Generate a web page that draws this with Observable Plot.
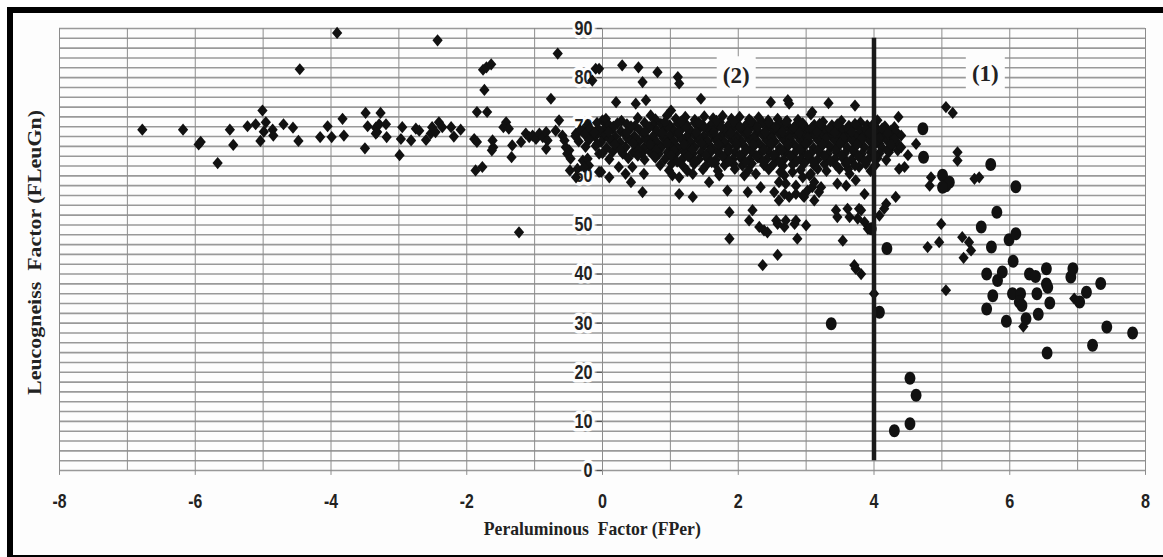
<!DOCTYPE html>
<html><head><meta charset="utf-8">
<script src="https://cdn.jsdelivr.net/npm/d3@7"></script>
<script src="https://cdn.jsdelivr.net/npm/@observablehq/plot@0.6"></script>
<style>
html,body{margin:0;padding:0;background:#fff;width:1163px;height:557px;overflow:hidden;}
#chart{position:absolute;left:0;top:0;}
#frame{position:absolute;left:7px;top:7px;width:1156px;height:550px;border-top:6px solid #000;border-left:6px solid #000;border-bottom:2px solid #000;box-sizing:border-box;pointer-events:none;}
</style></head><body>
<div id="chart"></div><div id="frame"></div>
<script>
// ---- data ----
const xTickValues = [-8, -6, -4, -2, 0, 2, 4, 6, 8];
const yTickValues = [0, 10, 20, 30, 40, 50, 60, 70, 80, 90];
const xTitle = "Peraluminous\u00a0 Factor (FPer)";
const yTitle = "Leucogneiss\u00a0 Factor (FLeuGn)";
const regionLabels = ["(2)", "(1)"];
const regionX = [1.97, 5.64];
const regionY = [80.4, 80.9];
const boundaryX = 4;
const boundaryY = [2, 88];

// scattered diamonds (group 2)
const diamondPoints = [
[-6.78,69.4],[-6.18,69.4],[-5.95,66.4],[-5.92,66.9],[-5.67,62.6],[-5.49,69.4],[-5.44,66.3],[-5.23,70.1],[-5.11,70.5],[-5.01,73.3],[-4.96,70.9],[-4.99,69.0],[-5.04,67.1],[-4.86,69.4],[-4.85,68.2],[-4.70,70.5],[-4.56,69.8],[-4.48,67.1],[-4.46,81.7],[-4.16,67.9],[-4.05,70.1],[-3.99,67.9],[-3.91,89.1],[-3.83,71.6],[-3.81,68.2],[-3.50,65.6],[-3.49,72.8],[-3.46,70.1],[-3.34,69.8],[-3.32,68.9],[-3.29,70.5],[-3.27,72.8],[-3.19,70.5],[-3.18,67.9],[-3.34,68.6],
[-2.99,64.2],[-2.95,69.9],[-2.97,67.5],[-2.82,67.2],[-2.75,69.6],[-2.70,69.2],[-2.60,67.3],[-2.53,68.6],[-2.51,69.9],[-2.43,87.6],[-2.41,70.9],[-2.46,68.9],[-2.36,69.9],[-2.23,69.9],[-2.19,68.0],[-2.09,69.4],
[-1.89,67.5],[-1.85,66.9],[-1.87,61.1],[-1.77,61.8],[-1.85,73.0],[-1.70,73.0],[-1.74,77.5],[-1.76,81.6],[-1.71,82.1],[-1.64,82.7],[-1.62,67.2],[-1.61,65.8],[-1.63,65.2],[-1.42,70.9],[-1.46,69.9],[-1.38,69.6],[-1.33,66.2],[-1.34,63.8],[-1.23,48.5],[-1.20,66.9],
[-1.13,68.6],[-1.08,67.9],[-1.03,68.2],[-0.98,67.5],[-0.93,68.6],[-0.88,67.9],[-0.83,68.9],[-0.81,67.2],[-0.83,65.5],[-0.76,75.7],[-0.66,84.9],[-0.64,71.3],[-0.69,69.2],[-0.59,68.2],[-0.56,67.2],[-0.54,65.8],[-0.49,65.2],[-0.52,64.5],[-0.47,63.5],[-0.48,61.1],[-0.39,59.7],[-0.37,61.4],[-0.29,63.1],[-0.22,63.5],[-0.20,62.1],[-0.27,61.8],[-0.15,79.4],[-0.10,81.8],[-0.05,81.8],[-0.05,64.5],[-0.02,60.8],[-0.39,68.6],[-0.29,69.2],[-0.20,68.2],[-0.10,68.9],[0.0,71.3],[0.05,69.9],[0.02,67.9],
[0.20,75.0],[0.29,82.5],[0.49,74.7],[0.53,82.1],[0.59,79.1],[0.64,75.4],[0.81,81.1],[1.11,80.1],[1.13,78.8],[1.45,75.7],[2.48,75.0],[2.73,75.4],[2.75,74.7],[3.33,74.8],[3.72,74.3],[3.09,73.0],[0.71,72.3],[1.01,73.3],[4.36,72.0],[3.07,72.5],
[0.59,56.7],[1.13,56.3],[1.33,55.7],[1.87,52.6],[1.87,47.2],[2.14,56.7],[2.21,53.0],[2.16,50.9],[2.31,49.6],[2.38,48.9],[2.43,48.5],[2.36,41.8],[2.58,43.9],
[-0.05,60.8],[0.10,59.7],[0.24,61.8],[0.34,60.4],[0.42,58.7],[0.44,61.8],[0.61,60.4],[0.98,61.1],[1.03,60.1],[1.13,59.7],[1.33,60.4],[1.57,58.7],[1.72,60.1],[1.84,57.0],[2.09,60.1],[2.26,60.4],[2.33,57.7],
[2.53,56.7],[2.60,55.0],[2.75,55.7],[2.85,56.3],[2.58,50.2],[2.68,49.6],[2.83,50.2],[3.00,49.9],[2.87,47.2],[2.56,50.9],[2.70,50.9],[2.85,50.9],
[3.44,53.0],[3.61,53.3],[3.64,51.6],[3.46,51.6],[3.78,53.3],[3.86,56.3],[3.81,53.0],[3.54,46.8],[3.76,51.3],[3.86,50.6],[3.91,49.2],
[2.97,55.7],[3.12,55.0],[3.19,56.7],[3.09,57.7],[2.68,60.1],[2.85,58.0],[3.05,60.1],[2.60,58.7],[2.70,58.4],[2.68,56.3],[2.95,56.0],[3.02,57.0],[3.22,57.7],
[3.46,58.4],[3.59,58.0],[3.73,59.1],[3.64,60.4],[3.49,61.4],[3.78,61.8],[3.07,60.4],[3.12,58.7],[3.17,61.4],[2.95,59.7],[2.80,60.8],
[3.71,41.8],[3.81,40.0],[3.73,41.1],
[4.62,66.5],[4.50,64.2],[5.06,74.0],[5.16,72.8],[5.23,64.8],[5.23,63.1],[4.84,59.7],[4.82,58.0],[5.48,59.4],[5.55,59.7],[4.32,55.7],[4.18,54.3],[4.15,53.3],[4.08,51.9],[4.99,50.2],[4.96,46.5],[4.79,45.5],[5.30,47.5],[5.40,46.5],[5.43,44.8],[5.32,43.3],[5.06,36.7],[4.00,36.0],
[4.37,61.4],[4.45,61.8],[4.25,69.2],[4.13,68.6],[4.08,66.5],[4.22,65.2],[4.35,65.2],[6.95,35.0],[6.20,29.3]
];

// dense band of diamonds (group 2)
const bandPoints = [
[0.05,71.6],[0.28,71.2],[0.52,71.8],[0.78,71.5],[0.95,72.3],[1.08,71.6],[1.22,72.0],[1.36,71.4],[1.50,72.1],[1.63,71.7],[1.77,72.2],[1.90,71.6],[2.02,72.0],[2.16,71.5],[2.30,71.9],[2.44,71.3],[2.58,71.6],[2.72,71.2],[2.88,71.4],[3.25,71.0],[3.52,71.2],[3.80,70.9],[4.05,71.3],
[-0.22,70.4],[-0.08,70.8],[0.10,70.3],[0.22,70.7],[0.36,70.5],[0.48,70.2],[0.62,70.8],[0.74,70.4],[0.86,70.6],[0.99,70.3],[1.11,70.7],[1.24,70.4],[1.36,70.8],[1.48,70.3],[1.61,70.6],[1.73,70.9],[1.86,70.4],[1.98,70.7],[2.11,70.3],[2.23,70.6],[2.36,70.8],[2.48,70.4],[2.61,70.7],[2.73,70.2],[2.86,70.5],[2.98,70.1],[3.12,70.4],[3.25,69.9],[3.38,70.3],[3.51,69.8],[3.63,70.2],[3.77,69.9],[3.90,70.3],[4.03,69.8],[4.16,70.1],[4.30,69.9],
[-0.33,69.3],[-0.18,69.6],[-0.04,69.2],[0.14,69.5],[0.27,69.1],[0.41,69.6],[0.55,69.3],[0.68,69.7],[0.80,69.2],[0.93,69.5],[1.05,69.3],[1.17,69.6],[1.30,69.2],[1.42,69.5],[1.55,69.4],[1.67,69.7],[1.80,69.2],[1.92,69.5],[2.05,69.3],[2.17,69.6],[2.29,69.2],[2.42,69.5],[2.54,69.3],[2.67,69.6],[2.79,69.2],[2.92,69.4],[3.04,69.1],[3.17,69.4],[3.29,69.0],[3.42,69.3],[3.55,69.1],[3.67,69.4],[3.80,69.0],[3.93,69.3],[4.06,69.1],[4.19,69.4],[4.33,68.9],
[-0.40,68.1],[-0.26,68.4],[-0.11,68.0],[0.04,68.3],[0.19,68.0],[0.33,68.5],[0.47,68.1],[0.61,68.4],[0.74,68.0],[0.87,68.3],[0.99,68.1],[1.11,68.4],[1.24,68.0],[1.36,68.3],[1.49,68.1],[1.61,68.4],[1.74,68.0],[1.86,68.3],[1.98,68.1],[2.11,68.4],[2.23,68.0],[2.36,68.3],[2.48,68.1],[2.61,68.4],[2.73,68.0],[2.86,68.3],[2.98,68.1],[3.11,68.4],[3.23,68.0],[3.36,68.3],[3.48,68.1],[3.61,68.4],[3.73,68.0],[3.86,68.3],[3.99,68.1],[4.12,68.3],[4.26,68.0],[4.40,68.2],
[-0.35,67.0],[-0.20,67.3],[-0.02,66.9],[0.12,67.2],[0.26,66.8],[0.40,67.3],[0.54,67.0],[0.67,67.3],[0.80,66.9],[0.93,67.2],[1.05,67.0],[1.17,67.3],[1.30,66.9],[1.42,67.2],[1.55,67.0],[1.67,67.3],[1.80,66.9],[1.92,67.2],[2.05,67.0],[2.17,67.3],[2.29,66.9],[2.42,67.2],[2.54,67.0],[2.67,67.3],[2.79,66.9],[2.92,67.2],[3.04,67.0],[3.17,67.3],[3.29,66.9],[3.42,67.2],[3.55,67.0],[3.67,67.3],[3.80,66.9],[3.93,67.2],[4.06,67.0],[4.19,67.2],[4.33,66.9],
[-0.25,65.9],[-0.10,66.1],[0.06,65.7],[0.20,66.0],[0.34,65.8],[0.49,66.1],[0.61,65.7],[0.74,66.0],[0.87,65.8],[0.99,66.1],[1.11,65.7],[1.24,66.0],[1.36,65.8],[1.49,66.1],[1.61,65.7],[1.74,66.0],[1.86,65.8],[1.98,66.1],[2.11,65.7],[2.23,66.0],[2.36,65.8],[2.48,66.1],[2.61,65.7],[2.73,66.0],[2.86,65.8],[2.98,66.1],[3.11,65.7],[3.23,66.0],[3.36,65.8],[3.48,66.1],[3.61,65.7],[3.73,66.0],[3.86,65.8],[3.99,66.0],[4.12,65.7],[4.26,66.0],[4.40,65.8],
[0.00,64.6],[0.15,64.9],[0.30,64.5],[0.45,64.8],[0.58,64.6],[0.70,64.9],[0.83,64.5],[0.96,64.8],[1.08,64.6],[1.20,64.9],[1.33,64.5],[1.45,64.8],[1.58,64.6],[1.70,64.9],[1.83,64.5],[1.95,64.8],[2.08,64.6],[2.20,64.9],[2.32,64.5],[2.45,64.8],[2.57,64.6],[2.70,64.9],[2.82,64.5],[2.95,64.8],[3.07,64.6],[3.20,64.9],[3.32,64.5],[3.45,64.8],[3.57,64.6],[3.70,64.9],[3.82,64.5],[3.95,64.8],[4.08,64.6],[4.22,64.8],
[0.10,63.4],[0.38,63.6],[0.62,63.3],[0.78,63.7],[0.92,63.4],[1.04,63.6],[1.17,63.3],[1.29,63.7],[1.42,63.4],[1.54,63.6],[1.67,63.3],[1.79,63.7],[1.92,63.4],[2.04,63.6],[2.17,63.3],[2.29,63.7],[2.42,63.4],[2.54,63.6],[2.67,63.3],[2.79,63.7],[2.92,63.4],[3.04,63.6],[3.17,63.3],[3.29,63.7],[3.42,63.4],[3.54,63.6],[3.67,63.3],[3.79,63.7],[3.92,63.4],[4.05,63.6],[4.18,63.2],
[0.85,62.2],[1.02,62.5],[1.18,62.1],[1.35,62.4],[1.52,62.0],[1.66,62.5],[1.80,62.2],[1.93,62.4],[2.06,62.1],[2.20,62.5],[2.38,62.2],[2.52,62.4],[2.66,62.0],[2.80,62.3],[2.97,62.5],[3.12,62.1],[3.27,62.4],[3.44,62.2],[3.58,62.5],[3.72,62.1],[3.88,62.4],[4.02,62.2],
[1.25,61.0],[1.48,61.3],[1.70,61.0],[1.95,61.4],[2.15,61.1],[2.45,61.3],[2.62,60.8],[2.92,61.2],[3.30,61.0],[3.62,61.4],[3.95,61.0],
[0.16,70.0],[0.42,70.1],[0.69,69.9],[0.96,70.0],[1.23,69.9],[1.49,70.0],[1.75,69.9],[2.02,70.0],[2.28,69.9],[2.55,70.0],[2.82,69.8],[3.08,69.7],[3.35,69.6],[3.62,69.6],[3.88,69.5],[4.12,69.6],
[0.10,67.6],[0.36,67.7],[0.63,67.6],[0.90,67.7],[1.17,67.6],[1.43,67.7],[1.70,67.6],[1.96,67.7],[2.23,67.6],[2.49,67.7],[2.76,67.6],[3.02,67.7],[3.29,67.6],[3.55,67.7],[3.82,67.6],[4.08,67.7],[4.30,67.5],
[0.26,65.3],[0.52,65.2],[0.79,65.3],[1.05,65.2],[1.32,65.3],[1.58,65.2],[1.85,65.3],[2.11,65.2],[2.38,65.3],[2.64,65.2],[2.91,65.3],[3.17,65.2],[3.44,65.3],[3.70,65.2],[3.97,65.3],[4.20,65.2],
[0.92,71.0],[1.16,71.1],[1.42,70.9],[1.68,71.2],[1.93,71.0],[2.19,71.1],[2.45,70.9],[2.70,71.0],[2.95,70.7],[3.20,70.6],[3.46,70.5],[3.72,70.6],[3.98,70.4],
[-0.12,68.8],[0.09,68.9],[0.36,68.8],[0.62,68.9],[0.88,68.7],[1.12,68.9],[1.38,68.8],[1.64,68.9],[1.89,68.7],[2.14,68.9],[2.40,68.8],[2.65,68.9],[2.90,68.7],[3.16,68.9],[3.42,68.8],[3.67,68.9],[3.93,68.7],[4.20,68.7],
[-0.08,66.5],[0.18,66.4],[0.45,66.6],[0.70,66.4],[0.95,66.6],[1.20,66.4],[1.46,66.6],[1.71,66.4],[1.97,66.6],[2.22,66.4],[2.48,66.6],[2.73,66.4],[2.99,66.6],[3.24,66.4],[3.50,66.6],[3.75,66.4],[4.01,66.6],[4.25,66.4],
[0.52,64.1],[0.76,64.0],[1.01,64.2],[1.26,64.0],[1.52,64.2],[1.77,64.0],[2.02,64.2],[2.27,64.0],[2.52,64.2],[2.77,64.0],[3.02,64.2],[3.27,64.0],[3.52,64.2],[3.77,64.0],[4.02,64.2],
[1.10,62.9],[1.36,63.0],[1.61,62.8],[1.86,63.0],[2.11,62.8],[2.36,63.0],[2.61,62.8],[2.86,63.0],[3.11,62.8],[3.36,63.0],[3.61,62.8],[3.86,63.0]
];

// circles (group 1)
const circlePoints = [
[4.72,69.6],[4.73,63.8],[5.01,60.1],[5.06,58.0],[5.11,58.7],[5.01,57.7],[5.72,62.3],[6.09,57.8],[5.81,52.6],[5.58,49.6],[5.73,45.5],[5.99,47.0],[6.09,48.2],[6.05,42.6],[3.96,49.2],[4.19,45.2],[4.08,32.2],[3.37,29.9],[4.53,18.8],[4.62,15.3],[4.53,9.5],[4.30,8.1],
[5.66,40.0],[5.82,38.7],[5.89,40.4],[5.75,35.6],[5.66,32.9],[5.95,30.4],[6.04,36.0],[6.16,36.0],[6.14,34.3],[6.18,33.6],[6.24,30.9],[6.29,40.0],[6.38,39.5],[6.54,41.1],[6.54,38.0],[6.56,37.3],[6.40,36.0],[6.59,34.1],[6.42,31.8],[6.55,23.9],[6.90,39.4],[6.93,41.1],[7.03,34.3],[7.13,36.3],[7.34,38.1],[7.22,25.5],[7.43,29.2],[7.81,28.0]
];

// ---- symbols ----
const diamondSym = {draw(ctx, size) {
  const r = Math.sqrt(size / Math.PI), h = r, w = r * 0.84;
  ctx.moveTo(0, -h); ctx.lineTo(w, 0); ctx.lineTo(0, h); ctx.lineTo(-w, 0); ctx.closePath();
}};
const ellipseSym = {draw(ctx, size) {
  const r = Math.sqrt(size / Math.PI), rx = r * 0.83, ry = r, k = 0.5523;
  ctx.moveTo(rx, 0);
  ctx.bezierCurveTo(rx, ry * k, rx * k, ry, 0, ry);
  ctx.bezierCurveTo(-rx * k, ry, -rx, ry * k, -rx, 0);
  ctx.bezierCurveTo(-rx, -ry * k, -rx * k, -ry, 0, -ry);
  ctx.bezierCurveTo(rx * k, -ry, rx, -ry * k, rx, 0);
  ctx.closePath();
}};

const tickFont = "'Liberation Sans', Arial, sans-serif";
const serifFont = "'Liberation Serif', 'Times New Roman', serif";
const hGrid = d3.range(0, 91, 2);
const vGrid = d3.range(-8, 9, 1);
const regions = regionLabels.map((t, i) => ({t, x: regionX[i], y: regionY[i]}));

const chart = Plot.plot({
  width: 1163, height: 557,
  marginLeft: 59, marginRight: 18, marginTop: 28, marginBottom: 87,
  x: {domain: [-8, 8], axis: null},
  y: {domain: [0, 90], axis: null},
  style: {background: "#fdfdfd"},
  marks: [
    Plot.ruleY(hGrid, {y: d => d, stroke: "#999", strokeWidth: 1.6}),
    Plot.ruleX(vGrid, {x: d => d, stroke: "#8c8c8c", strokeWidth: 1}),
    Plot.ruleX(xTickValues, {x: d => d, y1: -1, y2: 0, stroke: "#8c8c8c", strokeWidth: 1}),
    Plot.text(yTickValues, {x: 0, y: d => d, text: d => String(d), dx: -10, textAnchor: "end",
      fontSize: 20, fontWeight: "bold", fontFamily: tickFont, fill: "#222", stroke: "#fdfdfd", strokeWidth: 7}),
    Plot.ruleY(yTickValues, {y: d => d, x1: -0.08, x2: 0, stroke: "#555", strokeWidth: 1.2}),
    Plot.text(xTickValues, {x: d => d, y: 0, dy: 31, text: d => String(d),
      fontSize: 20, fontWeight: "bold", fontFamily: tickFont, fill: "#222"}),
    Plot.dot(diamondPoints, {x: d => d[0], y: d => d[1], symbol: diamondSym, r: 6.1, fill: "#111", stroke: "none"}),
    Plot.dot(bandPoints, {x: d => d[0], y: d => d[1], symbol: diamondSym, r: 6.1, fill: "#111", stroke: "none"}),
    Plot.dot(circlePoints, {x: d => d[0], y: d => d[1], symbol: ellipseSym, r: 6.5, fill: "#111", stroke: "none"}),
    Plot.ruleX([boundaryX], {x: d => d, y1: boundaryY[0], y2: boundaryY[1], stroke: "#1a1a1a", strokeWidth: 4.5}),
    Plot.dot(regions, {x: "x", y: "y", symbol: "square", r: 22, fill: "#fdfdfd", stroke: "none"}),
    Plot.text(regions, {x: "x", y: "y", text: "t", fontSize: 23, fontWeight: "bold", fontFamily: serifFont, fill: "#222"}),
    Plot.text([xTitle], {x: -0.15, y: 0, dy: 58, text: d => d, fontSize: 19, fontWeight: "bold", fontFamily: serifFont, fill: "#222"}),
    Plot.text([yTitle], {frameAnchor: "left", y: 44.4, dx: -24, rotate: -90, textAnchor: "middle", text: d => d, fontSize: 18, fontWeight: "bold", fontFamily: serifFont, fill: "#222"})
  ]
});
document.getElementById("chart").appendChild(chart);
// stretch / condense texts to the widths seen in the reference
d3.select(chart).selectAll("text").each(function() {
  const t = this.textContent;
  const s = d3.select(this);
  if (t === yTitle) s.attr("textLength", 285).attr("lengthAdjust", "spacingAndGlyphs");
  else if (t === xTitle) s.attr("textLength", 217).attr("lengthAdjust", "spacingAndGlyphs");
  else if (/^-?\d+$/.test(t)) {
    const len = t.replace("-", "").length * 9 + (t.startsWith("-") ? 5 : 0);
    s.attr("textLength", len).attr("lengthAdjust", "spacingAndGlyphs");
  }
});
</script></body></html>
